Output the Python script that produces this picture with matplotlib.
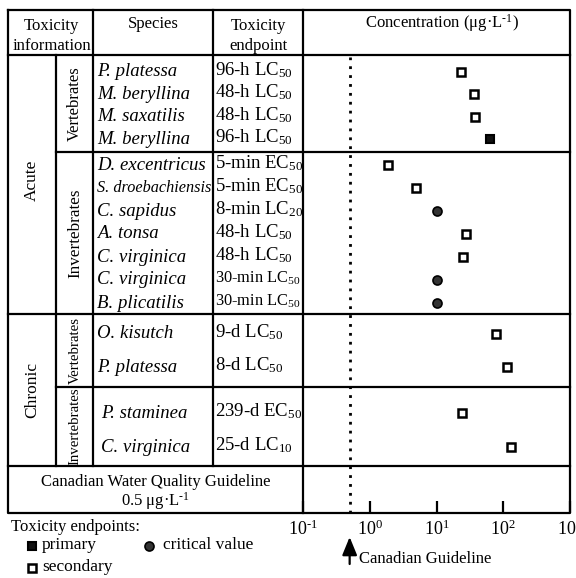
import numpy as np
import matplotlib
matplotlib.use("Agg")
import matplotlib.pyplot as plt
import matplotlib.transforms as mtransforms

plt.rcParams["font.family"] = ["Liberation Serif", "DejaVu Serif"]
plt.rcParams["mathtext.fontset"] = "custom"
plt.rcParams["mathtext.rm"] = "Liberation Serif"
plt.rcParams["mathtext.it"] = "Liberation Serif:italic"
plt.rcParams["mathtext.default"] = "regular"

# --- data -------------------------------------------------------------
species_acute_vert = ["P. platessa", "M. beryllina", "M. saxatilis", "M. beryllina"]
endpoint_acute_vert = ["96-h LC$_{50}$", "48-h LC$_{50}$", "48-h LC$_{50}$", "96-h LC$_{50}$"]
conc_acute_vert = [23, 36, 38, 63]
kind_acute_vert = ["secondary", "secondary", "secondary", "primary"]

species_acute_inv = ["D. excentricus", "S. droebachiensis", "C. sapidus", "A. tonsa",
                     "C. virginica", "C. virginica", "B. plicatilis"]
endpoint_acute_inv = ["5-min EC$_{50}$", "5-min EC$_{50}$", "8-min LC$_{20}$", "48-h LC$_{50}$",
                      "48-h LC$_{50}$", "30-min LC$_{50}$", "30-min LC$_{50}$"]
conc_acute_inv = [1.9, 4.9, 10, 28, 25, 10, 10]
kind_acute_inv = ["secondary", "secondary", "critical", "secondary",
                  "secondary", "critical", "critical"]

species_chronic_vert = ["O. kisutch", "P. platessa"]
endpoint_chronic_vert = ["9-d LC$_{50}$", "8-d LC$_{50}$"]
conc_chronic_vert = [78, 115]
kind_chronic_vert = ["secondary", "secondary"]

species_chronic_inv = ["P. staminea", "C. virginica"]
endpoint_chronic_inv = ["239-d EC$_{50}$", "25-d LC$_{10}$"]
conc_chronic_inv = [24.5, 132]
kind_chronic_inv = ["secondary", "secondary"]

guideline = 0.5
xtick_values = [0.1, 1, 10, 100, 1000]
xtick_labels = [r"10$^{\text{-}1}$", "10$^{0}$", "10$^{1}$", "10$^{2}$", "10$^{3}$"]

# --- layout (figure pixels) -------------------------------------------
W, H = 576, 578
LEFT, RIGHT, TOP, BOTTOM = 8, 570, 10, 513
C1, C2, C3, C4 = 56, 93, 213, 303
HEAD, GUIDE = 55, 466

styles = {
    "primary": dict(marker="s", mfc="#111111", mec="black", ms=6, mew=1.5),
    "secondary": dict(marker="s", mfc="white", mec="black", ms=6, mew=1.8),
    "critical": dict(marker="o", mfc="#333333", mec="black", ms=6.5, mew=1.2),
}

# (species, endpoints, conc, kinds, top, bottom, pad_top, pad_bottom, sub label, sub size, species x)
sections = [
    (species_acute_vert, endpoint_acute_vert, conc_acute_vert, kind_acute_vert,
     HEAD, 152, 17, 13, "Vertebrates", 12, 97),
    (species_acute_inv, endpoint_acute_inv, conc_acute_inv, kind_acute_inv,
     152, 314, 13, 11, "Invertebrates", 12.3, 97),
    (species_chronic_vert, endpoint_chronic_vert, conc_chronic_vert, kind_chronic_vert,
     314, 387, 20, 20, "Vertebrates", 10.7, 97),
    (species_chronic_inv, endpoint_chronic_inv, conc_chronic_inv, kind_chronic_inv,
     387, GUIDE, 26, 19, "Invertebrates", 10.7, 101),
]

fig = plt.figure(figsize=(W / 100, H / 100), dpi=100)
bg = fig.add_axes([0, 0, 1, 1])
bg.set_xlim(0, W)
bg.set_ylim(H, 0)
bg.axis("off")

ax = fig.add_axes([C4 / W, 1 - BOTTOM / H, (RIGHT - C4) / W, (BOTTOM - HEAD) / H])
ax.patch.set_visible(False)
ax.set_xscale("log")
ax.set_xlim(0.1, 1000)
ax.set_ylim(BOTTOM, HEAD)
for s in ax.spines.values():
    s.set_visible(False)
ax.set_yticks([])
ax.set_xticks(xtick_values, labels=xtick_labels)
ax.xaxis.set_minor_locator(matplotlib.ticker.NullLocator())
ax.tick_params(axis="x", direction="in", length=8.6, width=1.6, pad=5, labelsize=13)

lw = 1.6
k = dict(color="black", lw=lw, solid_capstyle="projecting")
# outer frame
bg.plot([LEFT, RIGHT, RIGHT, LEFT, LEFT], [TOP, TOP, BOTTOM, BOTTOM, TOP], **k)
# vertical lines
bg.plot([C1, C1], [HEAD, GUIDE], **k)
bg.plot([C2, C2], [TOP, GUIDE], **k)
bg.plot([C3, C3], [TOP, GUIDE], **k)
bg.plot([C4, C4], [TOP, BOTTOM], **k)
# horizontal lines
bg.plot([LEFT, RIGHT], [HEAD, HEAD], **k)
bg.plot([C1, RIGHT], [152, 152], **k)
bg.plot([LEFT, RIGHT], [314, 314], **k)
bg.plot([C1, RIGHT], [387, 387], **k)
bg.plot([LEFT, RIGHT], [GUIDE, GUIDE], **k)

fs = 12
# header
bg.text((LEFT + C2) / 2 + 1, 36, "Toxicity\ninformation", ha="center", va="center", fontsize=fs, linespacing=1.3)
bg.text((C2 + C3) / 2, 24, "Species", ha="center", va="center", fontsize=fs)
bg.text((C3 + C4) / 2, 36, "Toxicity\nendpoint", ha="center", va="center", fontsize=fs, linespacing=1.3)
bg.text(442, 23, r"Concentration (μg·L$^{\text{-}1}$)", ha="center", va="center", fontsize=fs)

bg.text(32, (HEAD + 314) / 2 - 4, "Acute", rotation=90, ha="center", va="center", fontsize=12.5)
bg.text(32, (314 + GUIDE) / 2, "Chronic", rotation=90, ha="center", va="center", fontsize=12.5)

for sp, ep, conc, kinds, top, bot, pt, pb, sub, subfs, sx in sections:
    ys = np.linspace(top + pt, bot - pb, len(sp))
    bg.text(75, (top + bot) / 2, sub, rotation=90, ha="center", va="center", fontsize=subfs)
    for y, name, e, c, kd in zip(ys, sp, ep, conc, kinds):
        sfs = 11.7 if len(name) > 15 else 13.5
        efs = 11.8 if e.startswith("30") else 13.5
        bg.text(sx, y, name, style="italic", ha="left", va="center", fontsize=sfs)
        bg.text(215, y - 2, e, ha="left", va="center", fontsize=efs)
        ax.plot([c], [y], ls="none", **styles[kd], zorder=5)

ax.axvline(guideline, ymin=0, ymax=(BOTTOM - 57) / (BOTTOM - HEAD), color="black",
           lw=2.0, ls=(0, (1, 2.2)))

# guideline row
bg.text((LEFT + C4) / 2, 482, "Canadian Water Quality Guideline", ha="center", va="center", fontsize=fs)
bg.text((LEFT + C4) / 2, 501, r"0.5 μg·L$^{\text{-}1}$", ha="center", va="center", fontsize=fs)

# arrow pointing up at the guideline value
tr = mtransforms.blended_transform_factory(ax.transData, bg.transData)
ax.annotate("", xy=(guideline, 537), xytext=(guideline, 564), xycoords=tr, textcoords=tr,
            arrowprops=dict(arrowstyle="-|>,head_length=1.1,head_width=0.45", color="black",
                            lw=1.6, mutation_scale=10, shrinkA=0, shrinkB=0),
            annotation_clip=False)
bg.text(359, 559, "Canadian Guideline", ha="left", va="center", fontsize=fs)

# legend
bg.text(11, 527, "Toxicity endpoints:", ha="left", va="center", fontsize=fs)
bg.plot([32], [546], ls="none", **styles["primary"])
bg.text(42, 545, "primary", ha="left", va="center", fontsize=12.5)
bg.plot([149], [546], ls="none", **styles["critical"])
bg.text(163, 545, "critical value", ha="left", va="center", fontsize=12.5)
bg.plot([32], [568], ls="none", **styles["secondary"])
bg.text(42, 567, "secondary", ha="left", va="center", fontsize=12.5)

fig.savefig("out.png", dpi=100)
